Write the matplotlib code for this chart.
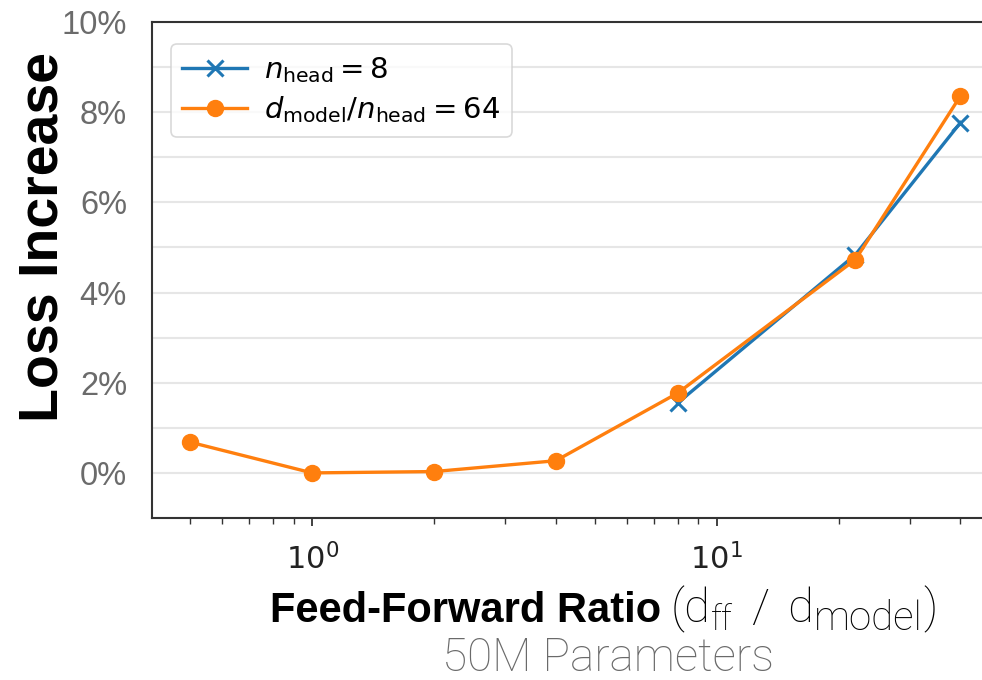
import matplotlib
matplotlib.use("Agg")
import matplotlib.pyplot as plt
from matplotlib.ticker import FixedLocator, NullFormatter

# values (loss increase in %)
ratio_all = [0.5, 1, 2, 4, 8, 22, 40]
loss_fixed_dim = [0.68, 0.0, 0.03, 0.27, 1.77, 4.73, 8.36]   # d_model / n_head = 64
ratio_heads = [8, 22, 40]
loss_fixed_heads = [1.55, 4.84, 7.77]                         # n_head = 8
y_major = [0, 2, 4, 6, 8, 10]
y_minor = [-1, 1, 3, 5, 7, 9]
y_labels = ["0%", "2%", "4%", "6%", "8%", "10%"]

W, H = 982, 680
fig = plt.figure(figsize=(W / 100, H / 100), dpi=100)
# axes box in pixels: left 152, right 999 (cropped), top 22, bottom 518
ax = fig.add_axes([152 / W, (H - 518) / H, (999 - 152) / W, (518 - 22) / H])

ax.plot(ratio_heads, loss_fixed_heads, color="#1f77b4", marker="x",
        lw=2.4, ms=11, mew=2.2, label=r"$n_{\mathrm{head}} = 8$")
ax.plot(ratio_all, loss_fixed_dim, color="#ff7f0e", marker="o",
        lw=2.4, ms=11.5, label=r"$d_{\mathrm{model}} / n_{\mathrm{head}} = 64$")

ax.set_xscale("log")
ax.set_xlim(0.402, 49.8)
ax.set_ylim(-1, 10)

ax.yaxis.set_major_locator(FixedLocator(y_major))
ax.yaxis.set_minor_locator(FixedLocator(y_minor))
ax.set_yticklabels(y_labels, fontsize=23.5, color="#6b6b6b",
                   fontfamily="Liberation Sans")
ax.yaxis.set_minor_formatter(NullFormatter())
ax.tick_params(axis="y", which="both", length=0, pad=18)
ax.grid(axis="y", which="both", color="#e6e6e6", lw=1.5)
ax.set_axisbelow(True)

ax.tick_params(axis="x", which="major", labelsize=22, length=6, width=1.3,
               color="#333333", labelcolor="#222222", pad=12)
ax.tick_params(axis="x", which="minor", length=4, width=1.0, color="#333333")

for side in ["left", "bottom", "top", "right"]:
    ax.spines[side].set_color("#333333")
    ax.spines[side].set_linewidth(1.5)

leg = ax.legend(loc="upper left", fontsize=21, frameon=True, fancybox=True,
                handlelength=2.2, borderpad=0.4, labelspacing=0.3,
                handletextpad=0.6, bbox_to_anchor=(0.005, 0.985))
leg.get_frame().set_edgecolor("#d0d0d0")
leg.get_frame().set_linewidth(1.2)

fig.text(18 / W, 1 - 237 / H, "Loss Increase", rotation=90, fontsize=40,
         fontweight="bold", fontfamily="Liberation Sans",
         ha="left", va="center", color="black")

# x label: bold part, then light part built piece by piece
base_y = 622
t1 = fig.text(270 / W, 1 - base_y / H, "Feed-Forward Ratio", fontsize=30,
              fontweight="bold", fontfamily="Liberation Sans",
              ha="left", va="baseline", color="black")
fig.canvas.draw()
renderer = fig.canvas.get_renderer()
x = t1.get_window_extent(renderer).x1 + 9
pieces = [("(d", 34, 0, 1), ("ff", 25, 8, 18), ("/", 34, 0, 18),
          ("d", 34, 0, 1), ("model", 29, 8, 1), (")", 34, 0, 0)]
for s, size, drop, gap in pieces:
    t = fig.text(x / W, 1 - (base_y + drop) / H, s, fontsize=size,
                 fontweight="light", fontfamily="Roboto",
                 ha="left", va="baseline", color="black")
    x = t.get_window_extent(renderer).x1 + gap

fig.text(608 / W, 1 - 671 / H, "50M Parameters", fontsize=33,
         fontweight="light", fontfamily="Roboto",
         ha="center", va="baseline", color="#6a6a6a")

fig.savefig("out.png", dpi=100)
